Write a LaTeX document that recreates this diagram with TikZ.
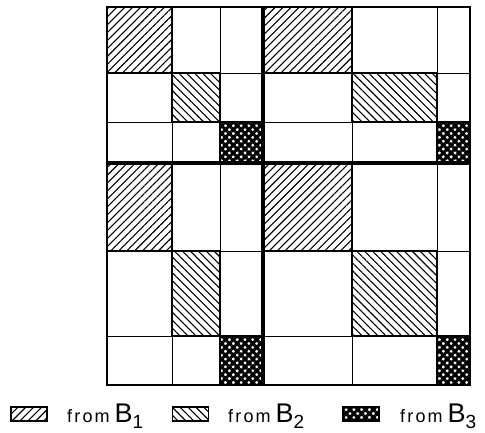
\documentclass[tikz,border=0pt]{standalone}
\usepackage{fontspec}
\setsansfont{Liberation Sans}
\usetikzlibrary{patterns.meta}

\newcommand{\srclabel}[1]{{\fontsize{18}{18}\selectfont\addfontfeature{LetterSpace=12}from}\hspace{5pt}{\fontsize{27}{27}\selectfont B}\raisebox{-6pt}{\fontsize{19}{19}\selectfont #1}}

\begin{document}
\begin{tikzpicture}[
    x=1pt, y=-1pt,
    % Fill styles for the three sources
    fromBone/.style={pattern={Lines[angle=45, distance=5.6pt, line width=1.1pt]}, draw, line width=1.2pt},
    fromBtwo/.style={pattern={Lines[angle=-45, distance=5.6pt, line width=1.1pt]}, draw, line width=1.2pt},
    fromBthree/.style={pattern={Hatch[angle=45, distance=5.5pt, line width=3pt]}, draw, line width=1.2pt},
    % Line styles
    gridline/.style={line width=0.9pt},
    blockline/.style={line width=3.6pt},
    frame/.style={line width=1.3pt},
    % Legend styles
    legbox/.style={rectangle, minimum width=36pt, minimum height=14pt, inner sep=0pt, draw, line width=1.1pt},
    legtext/.style={anchor=base west, inner sep=0pt, font=\sffamily},
]
\useasboundingbox (0,0) rectangle (485,433);

% Shaded cells, one per diagonal position of each block
\foreach \xa/\xb/\ya/\yb in {107/172/7/73, 263/352/7/73, 107/172/163/251, 263/352/163/251}
    \draw[fromBone] (\xa,\ya) rectangle (\xb,\yb);
\foreach \xa/\xb/\ya/\yb in {172/220/73/122, 352/437/73/122, 172/220/251/336, 352/437/251/336}
    \draw[fromBtwo] (\xa,\ya) rectangle (\xb,\yb);
\foreach \xa/\xb/\ya/\yb in {220/263/122/163, 437/470/122/163, 220/263/336/385, 437/470/336/385}
    \draw[fromBthree] (\xa,\ya) rectangle (\xb,\yb);

% Thin grid lines
\foreach \x in {172, 220, 352, 437}
    \draw[gridline] (\x,7) -- (\x,385);
\foreach \y in {73, 122, 251, 336}
    \draw[gridline] (107,\y) -- (470,\y);

% Block boundaries
\draw[blockline] (263,7) -- (263,385);
\draw[blockline] (107,163) -- (470,163);

% Outer frame
\draw[frame] (107,7) rectangle (470,385);

% Legend
\node[legbox, fromBone] (keyone) at (29,414) {};
\node[legtext] (labone) at (67,422) {\srclabel{1}};
\node[legbox, fromBtwo] (keytwo) at (190.5,414) {};
\node[legtext] (labtwo) at (228,422) {\srclabel{2}};
\node[legbox, fromBthree] (keythree) at (361,414) {};
\node[legtext] (labthree) at (400,422) {\srclabel{3}};

\end{tikzpicture}
\end{document}
